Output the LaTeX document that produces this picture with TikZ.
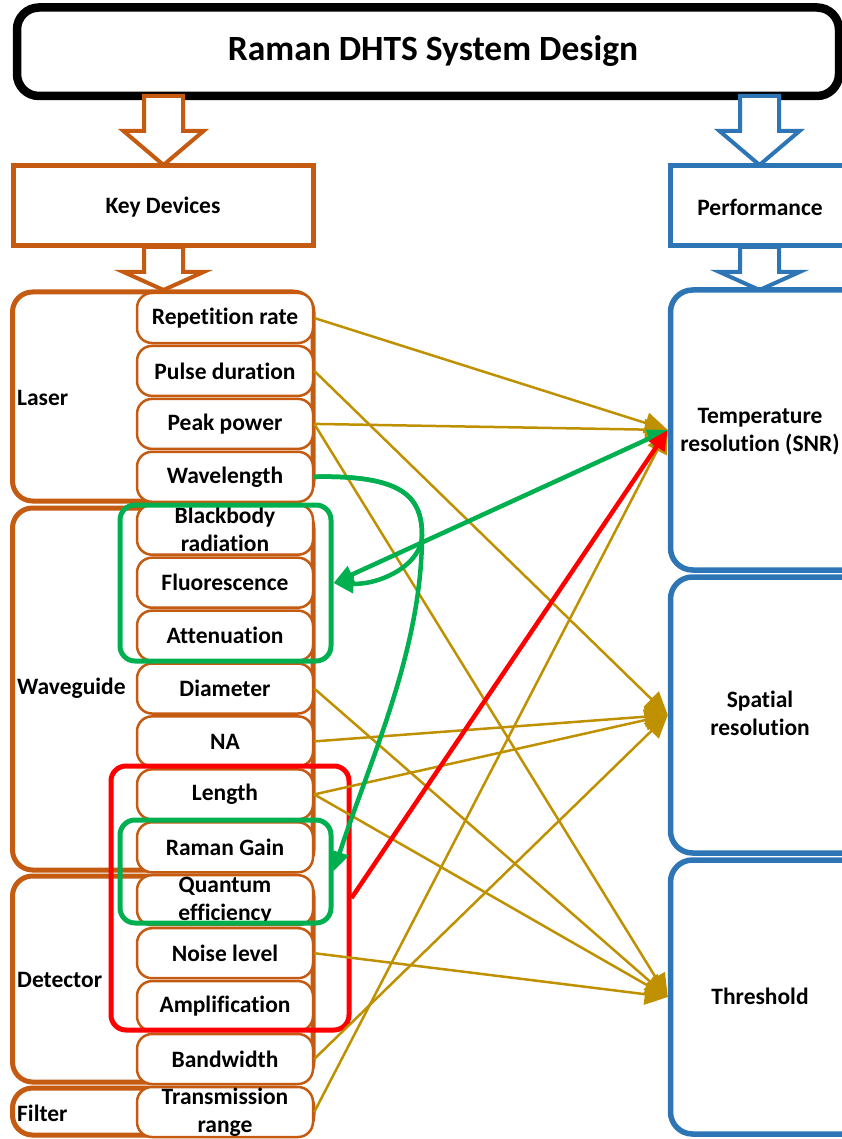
\documentclass[tikz,border=0pt]{standalone}
\usepackage{fontspec}
\setmainfont{Carlito}[Ligatures=NoCommon]
\usetikzlibrary{arrows.meta}
\definecolor{korange}{HTML}{C55A11}
\definecolor{kblue}{HTML}{2E75B6}
\definecolor{kgold}{HTML}{BF9000}
\definecolor{kgreen}{HTML}{00B050}
\definecolor{kred}{HTML}{FF0000}
\tikzset{
  txt/.style={font=\fontsize{23.5}{28}\selectfont\bfseries, align=center, inner sep=0pt},
  item/.style={txt, draw=korange, line width=2.5pt, fill=white, rounded corners=15pt,
    minimum width=176pt, minimum height=50pt},
  group/.style={draw=korange, line width=5pt, rounded corners=20pt, fill=white, inner sep=0pt},
  headbox/.style={line width=5pt, fill=white, minimum height=80pt, inner sep=0pt},
  perfbox/.style={draw=kblue, line width=5.5pt, fill=white, rounded corners=22pt,
    minimum width=195pt, inner sep=0pt},
  hilite/.style={line width=5pt, rounded corners=15pt, inner sep=0pt},
  goldarrow/.style={draw=kgold, line width=2.5pt, -{Triangle[length=23pt,width=21pt]}},
  greenarrow/.style={draw=kgreen, line width=4.5pt, -{Triangle[length=20pt,width=18pt]}},
  redarrow/.style={draw=kred, line width=4.5pt, -{Triangle[length=20pt,width=18pt]}},
  blockarrow/.style={line width=4pt, fill=white, line join=miter}
}
\newcommand\blockarr[5]{%
  \draw[blockarrow, draw=#5] (#1-19.5,#2) -- (#1-19.5,#3) -- (#1-40,#3) -- (#1,#4)
    -- (#1+40,#3) -- (#1+19.5,#3) -- (#1+19.5,#2) -- cycle;}
\begin{document}
\begin{tikzpicture}[x=1pt,y=-1pt]
\useasboundingbox (0,0) rectangle (842,1139);
\clip (0,0) rectangle (842,1139);

% title
\node[draw=black, line width=8.5pt, fill=white, rounded corners=22pt,
  minimum width=822pt, minimum height=88.5pt, inner sep=0pt] (title) at (428,51.75) {};
\node[txt, font=\fontsize{35.5}{40}\selectfont\bfseries] (titletext) at (433,51) {Raman DHTS System Design};
\blockarr{163.5}{96}{131}{165}{korange}
\blockarr{759.5}{96}{131}{165}{kblue}

% header boxes
\node[headbox, draw=korange, minimum width=300pt] (keydev) at (163,206) {};
\node[txt] (keydevtext) at (163,207) {Key Devices};
\node[headbox, draw=kblue, minimum width=195pt] (perf) at (768,206) {};
\node[txt] (perftext) at (760,207) {Performance};
\blockarr{163.5}{247}{272}{290}{korange}
\blockarr{759.5}{247}{272}{290}{kblue}

% groups
\node[group, minimum width=300.5pt, minimum height=209pt] (glaser) at (162.75,396.5) {};
\node[group, minimum width=300.5pt, minimum height=362pt] (gwave) at (162.75,689) {};
\node[group, minimum width=300.5pt, minimum height=206pt] (gdet) at (162.75,979) {};
\node[group, minimum width=300.5pt, minimum height=47pt] (gfilt) at (162.75,1111.5) {};
\node[txt, anchor=west] (llaser) at (17,398) {Laser};
\node[txt, anchor=west] (lwave) at (17,688) {Waveguide};
\node[txt, anchor=west] (ldet) at (17,980) {Detector};
\node[txt, anchor=west] (lfilt) at (17,1113) {Filter};

% items
\node[item] (rep)   at (225,318)    {Repetition rate};
\node[item] (pulse) at (225,370.9)  {Pulse duration};
\node[item] (peak)  at (225,423.9)  {Peak power};
\node[item] (wave)  at (225,476.8)  {Wavelength};
\node[item] (bb)    at (225,529.7)  {Blackbody\\radiation};
\node[item] (fluo)  at (225,582.7)  {Fluorescence};
\node[item] (att)   at (225,635.6)  {Attenuation};
\node[item] (dia)   at (225,688.5)  {Diameter};
\node[item] (na)    at (225,741.4)  {NA};
\node[item] (len)   at (225,794.4)  {Length};
\node[item] (gain)  at (225,847.3)  {Raman Gain};
\node[item] (qe)    at (225,900.2)  {Quantum\\efficiency};
\node[item] (noise) at (225,953.2)  {Noise level};
\node[item] (amp)   at (225,1006.1) {Amplification};
\node[item] (bw)    at (225,1059)   {Bandwidth};
\node[item] (tr)    at (225,1112)   {Transmission\\range};

% highlight boxes
\node[hilite, draw=kgreen, minimum width=211pt, minimum height=156pt] (gbox1) at (225.5,583) {};
\node[hilite, draw=kgreen, minimum width=211pt, minimum height=103pt] (gbox2) at (225.5,871.5) {};
\node[hilite, draw=kred, minimum width=238pt, minimum height=264pt] (rbox) at (230,898) {};

% performance boxes
\node[perfbox, minimum height=280pt] (temp) at (768,430) {};
\node[perfbox, minimum height=276pt] (spat) at (768,715) {};
\node[perfbox, minimum height=274pt] (thr)  at (768,997) {};
\node[txt] (temptext) at (760,432) {Temperature\\resolution (SNR)};
\node[txt] (spattext) at (760,713) {Spatial\\resolution};
\node[txt] (thrtext)  at (760,996) {Threshold};

% gold connectors
\draw[goldarrow] (rep.east) -- (temp.west);
\draw[goldarrow] (peak.east) -- (temp.west);
\draw[goldarrow] (tr.east) -- (temp.west);
\draw[goldarrow] (pulse.east) -- (spat.west);
\draw[goldarrow] (na.east) -- (spat.west);
\draw[goldarrow] (len.east) -- (spat.west);
\draw[goldarrow] (bw.east) -- (spat.west);
\draw[goldarrow] (peak.east) -- (thr.west);
\draw[goldarrow] (dia.east) -- (thr.west);
\draw[goldarrow] (len.east) -- (thr.west);
\draw[goldarrow] (noise.east) -- (thr.west);

% green and red connectors
\coordinate (bend) at (422,535);
\draw[greenarrow] (wave.east) .. controls (400,475) and (422,495) .. (bend)
  .. controls (422,565) and (380,585) .. (gbox1.east);
\draw[greenarrow] (wave.east) .. controls (400,475) and (422,495) .. (bend)
  .. controls (422,650) and (370,760) .. (gbox2.east);
\draw[greenarrow, {Triangle[length=20pt,width=18pt]}-{Triangle[length=20pt,width=18pt]}] (gbox1.east) -- (temp.west);
\draw[redarrow] (rbox.east) -- (temp.west);
\end{tikzpicture}
\end{document}
